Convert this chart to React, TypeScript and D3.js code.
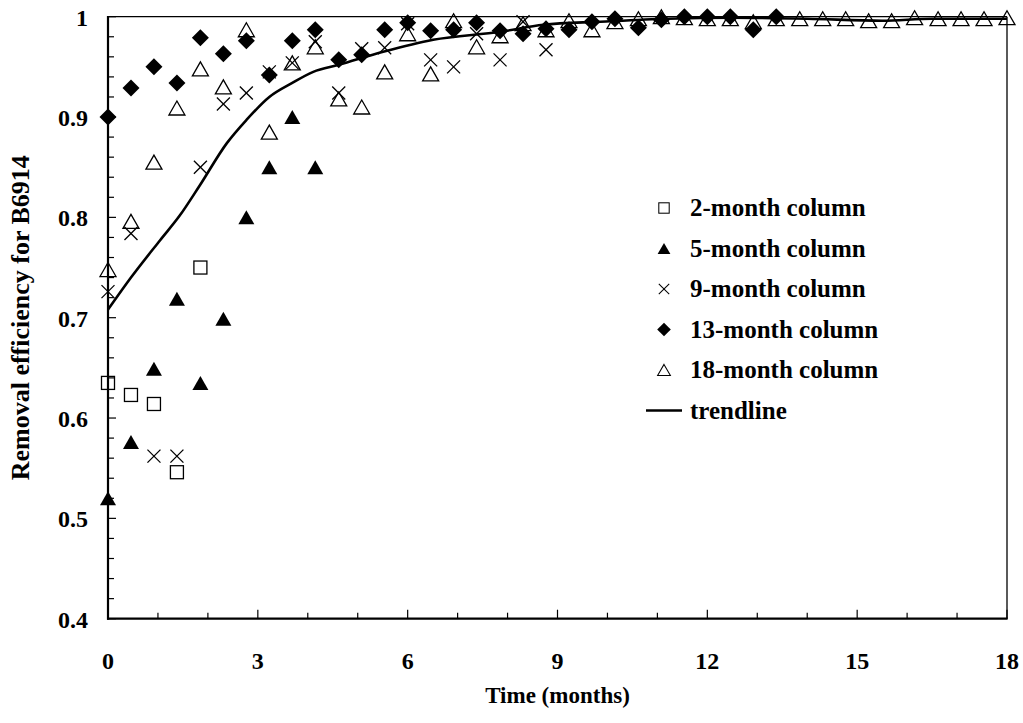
import React from "react";
import * as d3 from "d3";

// Sampling times in months (every two weeks)
const TIMES = [
  0.0, 0.46, 0.92, 1.38, 1.85, 2.31, 2.77, 3.23, 3.69, 4.15, 4.62, 5.08, 5.54,
  6.0, 6.46, 6.92, 7.38, 7.85, 8.31, 8.77, 9.23, 9.69, 10.15, 10.62, 11.08,
  11.54, 12.0, 12.46, 12.92, 13.38, 13.85, 14.31, 14.77, 15.23, 15.69, 16.15,
  16.62, 17.08, 17.54, 18.0,
];

const twoMonth = [0.635, 0.623, 0.614, 0.546, 0.75];
const fiveMonth = [0.52, 0.576, 0.649, 0.719, 0.635, 0.699, 0.8, 0.85, 0.9, 0.85];
const nineMonth = [
  0.726, 0.784, 0.562, 0.562, 0.85, 0.913, 0.924, 0.945, 0.954, 0.975, 0.924,
  0.968, 0.969, 0.993, 0.957, 0.95, 0.983, 0.957, 0.995, 0.967,
];
const thirteenMonth = [
  0.9, 0.929, 0.95, 0.934, 0.979, 0.963, 0.976, 0.942, 0.976, 0.987, 0.957,
  0.962, 0.987, 0.994, 0.986, 0.987, 0.994, 0.986, 0.983, 0.988, 0.987, 0.995,
  0.998, 0.989, 0.997, 1.0, 1.0, 1.0, 0.987, 1.0,
];
const eighteenMonth = [
  0.748, 0.796, 0.855, 0.909, 0.948, 0.93, 0.987, 0.885, 0.954, 0.97, 0.918,
  0.91, 0.945, 0.983, 0.943, 0.996, 0.97, 0.981, 0.993, 0.987, 0.996, 0.987,
  0.995, 0.998, 1.0, 0.999, 0.998, 0.998, 0.995, 0.998, 0.998, 0.998, 0.998,
  0.996, 0.996, 0.999, 0.998, 0.998, 0.998, 0.999,
];

const trendT = [
  0, 0.46, 1.04, 1.44, 1.84, 2.38, 2.77, 3.23, 3.69, 4.11, 4.62, 5.51, 6.51,
  7.86, 8.72, 9.86, 11.2, 12.5, 14.0, 15.5, 16.5, 18.0,
];
const trendV = [
  0.708, 0.74, 0.777, 0.802, 0.832, 0.874, 0.897, 0.92, 0.934, 0.945, 0.952,
  0.965, 0.977, 0.985, 0.992, 0.995, 0.998, 0.999, 0.998, 0.996, 0.998, 0.998,
];

const xTicks = [0, 3, 6, 9, 12, 15, 18];
const yTicks = [0.4, 0.5, 0.6, 0.7, 0.8, 0.9, 1];

const legendLabels = [
  "2-month column",
  "5-month column",
  "9-month column",
  "13-month column",
  "18-month column",
  "trendline",
];

const FONT = "'Liberation Serif', 'Times New Roman', serif";

const W = 1023;
const H = 723;
const L = 108;
const R = 1007;
const T = 16.7;
const B = 618.7;

type Kind = "square" | "tri" | "x" | "diamond" | "otri";

function Marker({ kind, cx, cy }: { kind: Kind; cx: number; cy: number }) {
  const sw = 1.3;
  if (kind === "square") {
    return (
      <rect x={cx - 6.5} y={cy - 6.5} width={13} height={13} fill="none" stroke="#000" strokeWidth={sw} />
    );
  }
  if (kind === "tri" || kind === "otri") {
    const w = 8;
    const h = 7;
    const d = `M${cx},${cy - h}L${cx + w},${cy + h}L${cx - w},${cy + h}Z`;
    return kind === "tri" ? (
      <path d={d} fill="#000" />
    ) : (
      <path d={d} fill="none" stroke="#000" strokeWidth={sw} />
    );
  }
  if (kind === "x") {
    const s = 6.5;
    return (
      <g stroke="#000" strokeWidth={sw}>
        <line x1={cx - s} y1={cy - s} x2={cx + s} y2={cy + s} />
        <line x1={cx - s} y1={cy + s} x2={cx + s} y2={cy - s} />
      </g>
    );
  }
  const s = 8.5;
  return <path d={`M${cx},${cy - s}L${cx + s},${cy}L${cx},${cy + s}L${cx - s},${cy}Z`} fill="#000" />;
}

export default function App() {
  const x = d3.scaleLinear().domain([0, 18]).range([L, R]);
  const y = d3.scaleLinear().domain([0.4, 1]).range([B, T]);

  const series: { kind: Kind; values: number[] }[] = [
    { kind: "square", values: twoMonth },
    { kind: "tri", values: fiveMonth },
    { kind: "x", values: nineMonth },
    { kind: "diamond", values: thirteenMonth },
    { kind: "otri", values: eighteenMonth },
  ];

  const trendData = trendT.map((t, i) => [t, trendV[i]] as [number, number]);
  const line = d3
    .line<[number, number]>()
    .x((d) => x(d[0]))
    .y((d) => y(d[1]))
    .curve(d3.curveMonotoneX);

  const xMinor = d3.range(0, 19, 1);
  const yMinor = d3.range(0, 31).map((i) => 0.4 + i * 0.02);

  const legX = 664;
  const legY0 = 208;
  const legDy = 40.5;
  const legendKinds: (Kind | "line")[] = ["square", "tri", "x", "diamond", "otri", "line"];

  return (
    <svg width={W} height={H} style={{ position: "absolute", left: 0, top: 0, background: "#fff" }}>
      <rect x={0} y={0} width={W} height={H} fill="#fff" />
      {/* frame top/right */}
      <line x1={L} y1={T} x2={R} y2={T} stroke="#000" strokeWidth={1.3} />
      <line x1={R} y1={T} x2={R} y2={B} stroke="#000" strokeWidth={1.3} />

      {/* y minor ticks */}
      {yMinor.map((v, i) => (
        <line key={"ym" + i} x1={L} x2={L + (i % 5 === 0 ? 8 : 6)} y1={y(v)} y2={y(v)} stroke="#000" strokeWidth={1.2} />
      ))}
      {/* x ticks */}
      {xMinor.map((t) => (
        <line key={"xm" + t} x1={x(t)} x2={x(t)} y1={B} y2={B - (t % 3 === 0 ? 9 : 6)} stroke="#000" strokeWidth={1.2} />
      ))}

      {/* axes */}
      <line x1={L} y1={T - 0.6} x2={L} y2={B + 1} stroke="#000" strokeWidth={2.2} />
      <line x1={L - 1} y1={B} x2={R + 0.6} y2={B} stroke="#000" strokeWidth={2.2} />

      {/* tick labels */}
      {yTicks.map((v) => (
        <text key={"yl" + v} x={88} y={y(v) + 9} textAnchor="end" fontFamily={FONT} fontWeight="bold" fontSize={24}>
          {String(v)}
        </text>
      ))}
      {xTicks.map((t) => (
        <text key={"xl" + t} x={x(t)} y={669} textAnchor="middle" fontFamily={FONT} fontWeight="bold" fontSize={24}>
          {String(t)}
        </text>
      ))}

      {/* axis titles */}
      <text x={(L + R) / 2} y={703} textAnchor="middle" fontFamily={FONT} fontWeight="bold" fontSize={23}>
        Time (months)
      </text>
      <text
        transform={`translate(29,${(T + B) / 2}) rotate(-90)`}
        textAnchor="middle"
        fontFamily={FONT}
        fontWeight="bold"
        fontSize={26}
      >
        Removal efficiency for B6914
      </text>

      {/* trendline */}
      <path d={line(trendData) || ""} fill="none" stroke="#000" strokeWidth={2.6} />

      {/* data markers */}
      {series.map((s, si) => (
        <g key={"s" + si}>
          {s.values.map((v, i) => (
            <Marker key={i} kind={s.kind} cx={x(TIMES[i])} cy={y(v)} />
          ))}
        </g>
      ))}

      {/* legend */}
      {legendLabels.map((lab, i) => {
        const cy = legY0 + i * legDy;
        const k = legendKinds[i];
        return (
          <g key={"lg" + i}>
            {k === "line" ? (
              <line x1={646} x2={682} y1={cy} y2={cy} stroke="#000" strokeWidth={2.6} />
            ) : (
              <g transform={`translate(${legX},${cy}) scale(0.8) translate(${-legX},${-cy})`}>
                <Marker kind={k} cx={legX} cy={cy} />
              </g>
            )}
            <text x={690} y={cy + 8} fontFamily={FONT} fontWeight="bold" fontSize={25}>
              {lab}
            </text>
          </g>
        );
      })}
    </svg>
  );
}
